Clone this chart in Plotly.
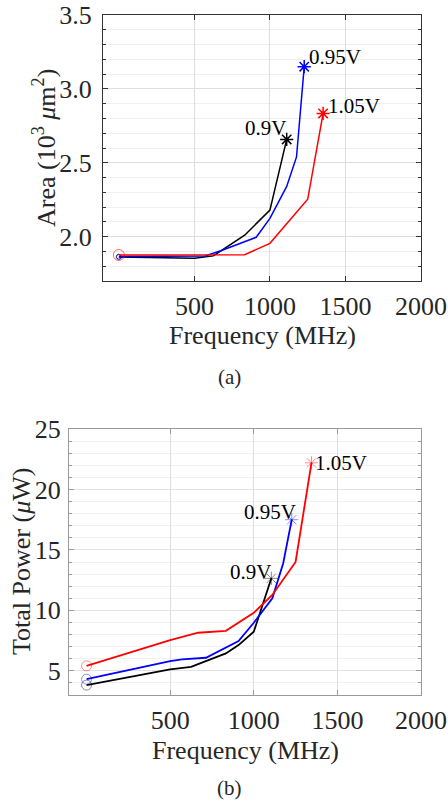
import plotly.graph_objects as go

# ---------------- data ----------------
# (a) Area (10^3 um^2) vs Frequency (MHz)
area_f_09 = [0, 500, 625, 833, 1000, 1111]
area_v_09 = [1.863, 1.854, 1.87, 2.01, 2.18, 2.658]
area_f_095 = [0, 500, 571, 675, 833, 909, 1000, 1111, 1176, 1227]
area_v_095 = [1.865, 1.865, 1.87, 1.905, 1.97, 1.996, 2.124, 2.34, 2.54, 3.15]
area_f_105 = [0, 500, 667, 833, 1000, 1111, 1250, 1352]
area_v_105 = [1.876, 1.876, 1.876, 1.878, 1.955, 2.086, 2.253, 2.834]

# (b) Total power (uW) vs Frequency (MHz)
pow_f_09 = [0, 500, 625, 833, 909, 1000, 1105]
pow_v_09 = [3.82, 5.12, 5.33, 6.44, 7.13, 8.23, 12.65]
pow_f_095 = [0, 500, 571, 714, 909, 1000, 1111, 1176, 1227]
pow_v_095 = [4.31, 5.80, 5.94, 6.08, 7.46, 8.98, 11.0, 13.9, 17.5]
pow_f_105 = [0, 500, 667, 833, 1000, 1111, 1250, 1345]
pow_v_105 = [5.41, 7.54, 8.15, 8.31, 9.8, 11.27, 14.0, 22.2]

series_names = ["0.9V", "0.95V", "1.05V"]
series_colors = ["#000000", "#0000ff", "#ff0000"]

x_ticks = [500, 1000, 1500, 2000]
area_ticks = [2.0, 2.5, 3.0, 3.5]
pow_ticks = [5, 10, 15, 20, 25]

W, H = 448, 801
FONT = "Liberation Serif"

def px(x):
    return x / W

def py(y):
    return 1 - y / H

fig = go.Figure()

area_sets = [(area_f_09, area_v_09), (area_f_095, area_v_095), (area_f_105, area_v_105)]
pow_sets = [(pow_f_09, pow_v_09), (pow_f_095, pow_v_095), (pow_f_105, pow_v_105)]

def rgba(hexc, a):
    r, g, b = int(hexc[1:3], 16), int(hexc[3:5], 16), int(hexc[5:7], 16)
    return f"rgba({r},{g},{b},{a})"

# top plot traces
for i, ((f, v), c) in enumerate(zip(area_sets, series_colors)):
    fig.add_trace(go.Scatter(x=f, y=v, mode="lines", line=dict(color=c, width=1.5),
                             xaxis="x", yaxis="y", showlegend=False, hoverinfo="skip"))
    csize = 11 if i == 2 else 5
    fig.add_trace(go.Scatter(x=[f[0]], y=[v[0]], mode="markers",
                             marker=dict(symbol="circle-open", size=csize, color=rgba(c, 0.6),
                                         line=dict(width=1)),
                             xaxis="x", yaxis="y", showlegend=False, hoverinfo="skip"))
    fig.add_trace(go.Scatter(x=[f[-1]], y=[v[-1]], mode="markers",
                             marker=dict(symbol="asterisk-open", size=11, color=c,
                                         line=dict(width=1.5)),
                             xaxis="x", yaxis="y", showlegend=False, hoverinfo="skip"))

# bottom plot traces
for i, ((f, v), c) in enumerate(zip(pow_sets, series_colors)):
    fig.add_trace(go.Scatter(x=f, y=v, mode="lines", line=dict(color=c, width=1.8),
                             xaxis="x2", yaxis="y2", showlegend=False, hoverinfo="skip"))
    fig.add_trace(go.Scatter(x=[f[0]], y=[v[0]], mode="markers",
                             marker=dict(symbol="circle-open", size=10, color=rgba(c, 0.45),
                                         line=dict(width=1)),
                             xaxis="x2", yaxis="y2", showlegend=False, hoverinfo="skip"))
    fig.add_trace(go.Scatter(x=[f[-1]], y=[v[-1]], mode="markers",
                             marker=dict(symbol="asterisk-open", size=11, color=rgba(c, 0.45),
                                         line=dict(width=1)),
                             xaxis="x2", yaxis="y2", showlegend=False, hoverinfo="skip"))

tickfont = dict(family=FONT, size=26, color="#262626")

def xaxis_cfg(domain, anchor, linecolor):
    return dict(domain=domain, anchor=anchor, range=[-105, 2000],
                tickvals=x_ticks, ticktext=[str(t) for t in x_ticks],
                tickfont=tickfont, showgrid=True, gridcolor="#dedede", gridwidth=1,
                showline=True, linecolor=linecolor, linewidth=1, mirror="ticks",
                ticks="inside", ticklen=5, tickcolor=linecolor, automargin=False,
                ticklabelstandoff=2, zeroline=False, fixedrange=True)

fig.update_layout(
    width=W, height=H, margin=dict(l=0, r=0, t=0, b=0, autoexpand=False),
    paper_bgcolor="white", plot_bgcolor="white",
    xaxis=xaxis_cfg([px(103), px(421)], "y", "#333333"),
    yaxis=dict(domain=[py(281), py(15)], anchor="x", range=[1.7, 3.5],
               tickvals=area_ticks, ticktext=[f"{t:.1f}" for t in area_ticks],
               tickfont=tickfont, showgrid=True, gridcolor="#dedede",
               showline=True, linecolor="#333333", linewidth=1, mirror="ticks",
               ticks="inside", ticklen=5, tickcolor="#333333", automargin=False,
               minor=dict(dtick=0.1, tick0=0, showgrid=True, gridcolor="#efefef",
                          ticks="inside", ticklen=3, tickcolor="#333333"),
               ticklabelstandoff=5, zeroline=False, fixedrange=True),
    xaxis2=xaxis_cfg([px(69), px(421)], "y2", "#9a9a9a"),
    yaxis2=dict(domain=[py(695), py(429)], anchor="x2", range=[3, 25],
                tickvals=pow_ticks, ticktext=[str(t) for t in pow_ticks],
                tickfont=tickfont, showgrid=True, gridcolor="#e3e3e3",
                showline=True, linecolor="#9a9a9a", linewidth=1, mirror="ticks",
                ticks="inside", ticklen=5, tickcolor="#9a9a9a", automargin=False,
                minor=dict(dtick=1, tick0=0, showgrid=True, gridcolor="#f1f1f1",
                           ticks="inside", ticklen=3, tickcolor="#9a9a9a"),
                ticklabelstandoff=2, zeroline=False, fixedrange=True),
)

titlefont = dict(family=FONT, size=26, color="#262626")
labfont = dict(family=FONT, size=21, color="#000000")

annotations = [
    dict(text="Frequency (MHz)", x=px(262), y=py(335), xref="paper", yref="paper",
         showarrow=False, font=titlefont, xanchor="center", yanchor="middle"),
    dict(text="Area (10<sup>3</sup> <i>μ</i>m<sup>2</sup>)", x=px(44), y=py(148),
         xref="paper", yref="paper", showarrow=False, font=titlefont, textangle=-90,
         xanchor="center", yanchor="middle"),
    dict(text="(a)", x=px(229), y=py(377), xref="paper", yref="paper", showarrow=False,
         font=dict(family=FONT, size=21, color="#262626"), xanchor="center", yanchor="middle"),
    dict(text="Frequency (MHz)", x=px(245), y=py(750), xref="paper", yref="paper",
         showarrow=False, font=titlefont, xanchor="center", yanchor="middle"),
    dict(text="Total Power (<i>μ</i>W)", x=px(21), y=py(562),
         xref="paper", yref="paper", showarrow=False, font=titlefont, textangle=-90,
         xanchor="center", yanchor="middle"),
    dict(text="(b)", x=px(229), y=py(788), xref="paper", yref="paper", showarrow=False,
         font=dict(family=FONT, size=21, color="#262626"), xanchor="center", yanchor="middle"),
]

# series labels anchored at the last point of each series
top_label_cfg = [("right", 1, 11), ("left", 3, 10), ("left", 3, 7)]
for (f, v), name, (xa, xs, ys) in zip(area_sets, series_names, top_label_cfg):
    annotations.append(dict(text=name, x=f[-1], y=v[-1], xref="x", yref="y",
                            showarrow=False, font=labfont, xanchor=xa,
                            yanchor="middle", xshift=xs, yshift=ys))
bot_label_cfg = [("right", 2, 6), ("right", 6, 8), ("left", 2, 0)]
for (f, v), name, (xa, xs, ys) in zip(pow_sets, series_names, bot_label_cfg):
    annotations.append(dict(text=name, x=f[-1], y=v[-1], xref="x2", yref="y2",
                            showarrow=False, font=labfont, xanchor=xa,
                            yanchor="middle", xshift=xs, yshift=ys))

fig.update_layout(annotations=annotations)

fig.write_html("out.html")
